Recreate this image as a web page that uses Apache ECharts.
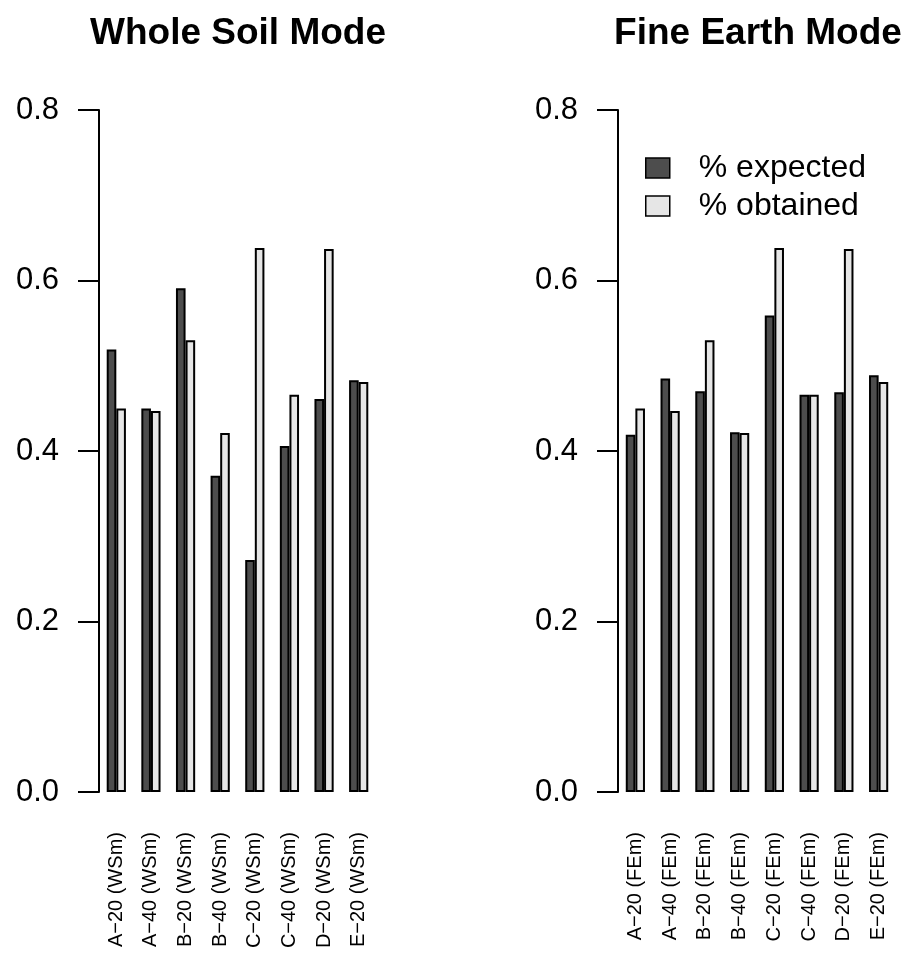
<!DOCTYPE html>
<html>
<head>
<meta charset="utf-8">
<script src="https://cdn.jsdelivr.net/npm/echarts@6/dist/echarts.min.js"></script>
<style>
html,body{margin:0;padding:0;background:#fff;}
#chart{width:904px;height:953px;}
</style>
</head>
<body>
<div id="chart"></div>
<script>
const wsCategories = ['A\u221220 (WSm)','A\u221240 (WSm)','B\u221220 (WSm)','B\u221240 (WSm)','C\u221220 (WSm)','C\u221240 (WSm)','D\u221220 (WSm)','E\u221220 (WSm)'];
const feCategories = ['A\u221220 (FEm)','A\u221240 (FEm)','B\u221220 (FEm)','B\u221240 (FEm)','C\u221220 (FEm)','C\u221240 (FEm)','D\u221220 (FEm)','E\u221220 (FEm)'];
const wsExpected = [0.519, 0.450, 0.591, 0.371, 0.272, 0.406, 0.461, 0.483];
const wsObtained = [0.450, 0.447, 0.530, 0.421, 0.638, 0.466, 0.637, 0.481];
const feExpected = [0.419, 0.485, 0.470, 0.422, 0.559, 0.466, 0.469, 0.489];
const feObtained = [0.450, 0.447, 0.530, 0.421, 0.638, 0.466, 0.637, 0.481];
const yTicks = [0, 0.2, 0.4, 0.6, 0.8];
const titles = ['Whole Soil Mode', 'Fine Earth Mode'];
const seriesNames = ['% expected', '% obtained'];

const FONT = '"Liberation Sans", Arial, Helvetica, sans-serif';
const DARK = '#4d4d4d', LIGHT = '#e6e6e6';

function yAxis(idx) {
  return {
    type: 'value', gridIndex: idx, min: yTicks[0], max: yTicks[yTicks.length - 1], interval: 0.2,
    axisLine: {show: true, lineStyle: {color: '#000', width: 2}},
    axisTick: {show: true, length: 21, inside: false, lineStyle: {color: '#000', width: 2}},
    axisLabel: {margin: 40, fontSize: 31, fontFamily: FONT, color: '#000', formatter: v => v.toFixed(1)},
    splitLine: {show: false}
  };
}
function xAxis(idx, cats) {
  return {
    type: 'category', gridIndex: idx, data: cats,
    axisLine: {show: false}, axisTick: {show: false},
    axisLabel: {rotate: 90, margin: 40, fontSize: 20, fontFamily: FONT, color: '#000', interval: 0}
  };
}
function bar(name, idx, data, color) {
  return {
    name: name, type: 'bar', xAxisIndex: idx, yAxisIndex: idx, data: data,
    barWidth: 9.6, barGap: '0%',
    itemStyle: {color: color, borderColor: '#000', borderWidth: 2},
    emphasis: {disabled: true}, animation: false
  };
}

const chart = echarts.init(document.getElementById('chart'), null, {renderer: 'canvas'});
chart.setOption({
  animation: false,
  backgroundColor: '#fff',
  title: [
    {text: titles[0], left: 233, top: 10, textAlign: 'center', textStyle: {fontSize: 37, fontWeight: 'bold', fontFamily: FONT, color: '#000'}},
    {text: titles[1], left: 753, top: 10, textAlign: 'center', textStyle: {fontSize: 37, fontWeight: 'bold', fontFamily: FONT, color: '#000'}}
  ],
  legend: {
    data: [
      {name: seriesNames[0], itemStyle: {color: DARK, borderColor: '#000', borderWidth: 1.5}},
      {name: seriesNames[1], itemStyle: {color: LIGHT, borderColor: '#000', borderWidth: 1.5}}
    ],
    orient: 'vertical', left: 645, top: 152, padding: 0,
    itemWidth: 24, itemHeight: 20, itemGap: 6,
    icon: 'rect',
    textStyle: {fontSize: 32, fontFamily: FONT, color: '#000', lineHeight: 32, padding: [0, 0, 0, 24]},
    selectedMode: false
  },
  grid: [
    {left: 99, top: 110, width: 277, height: 682},
    {left: 618, top: 110, width: 278, height: 682}
  ],
  xAxis: [xAxis(0, wsCategories), xAxis(1, feCategories)],
  yAxis: [yAxis(0), yAxis(1)],
  series: [
    bar(seriesNames[0], 0, wsExpected, DARK),
    bar(seriesNames[1], 0, wsObtained, LIGHT),
    bar(seriesNames[0], 1, feExpected, DARK),
    bar(seriesNames[1], 1, feObtained, LIGHT)
  ]
});
</script>
</body>
</html>
